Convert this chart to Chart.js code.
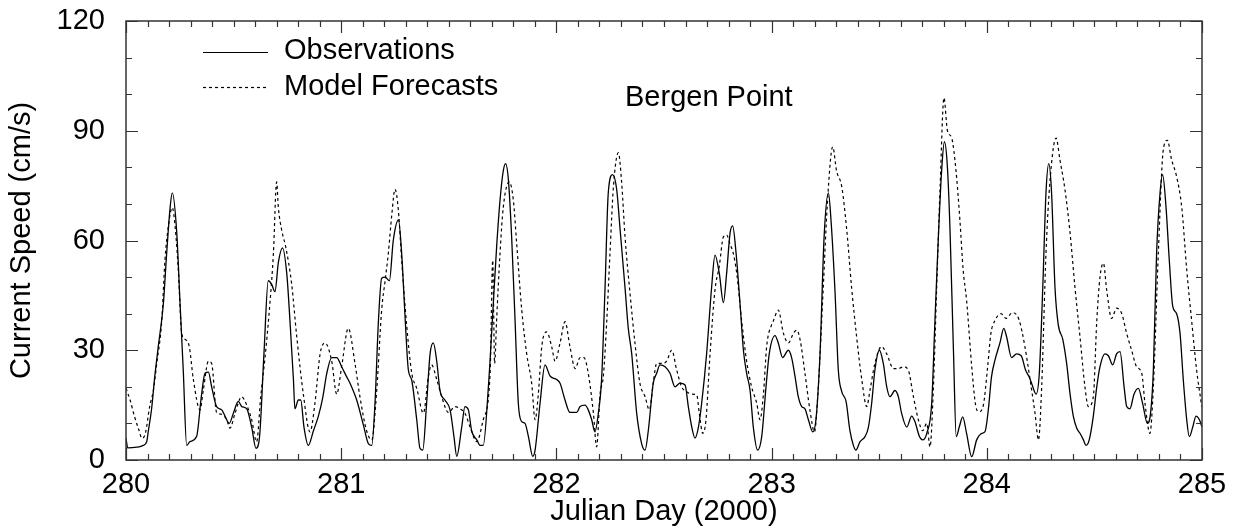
<!DOCTYPE html>
<html>
<head>
<meta charset="utf-8">
<script src="https://cdn.jsdelivr.net/npm/chart.js@4/dist/chart.umd.min.js"></script>
<style>
    body { margin: 0; background: #fff; }
    #chart-bergen { display: block; }
</style>
</head>
<body>
<canvas id="chart-bergen" width="1236" height="529"></canvas>
<script>
// julian day (2000) / current speed in cm/s
const obsDays = [
    280.000, 280.008, 280.050, 280.080, 280.096, 280.104, 280.119, 280.134, 280.150, 280.174,
    280.189, 280.205, 280.215, 280.236, 280.251, 280.266, 280.282, 280.297, 280.328, 280.350,
    280.367, 280.383, 280.398, 280.421, 280.445, 280.460, 280.480, 280.499, 280.522, 280.538,
    280.561, 280.584, 280.604, 280.620, 280.641, 280.661, 280.677, 280.692, 280.708, 280.727,
    280.747, 280.762, 280.778, 280.785, 280.801, 280.812, 280.827, 280.847, 280.871, 280.894,
    280.914, 280.933, 280.956, 280.979, 281.002, 281.025, 281.041, 281.072, 281.103, 281.126,
    281.142, 281.157, 281.173, 281.188, 281.204, 281.224, 281.242, 281.266, 281.281, 281.296,
    281.312, 281.327, 281.351, 281.366, 281.379, 281.397, 281.413, 281.428, 281.444, 281.459,
    281.482, 281.506, 281.524, 281.537, 281.560, 281.575, 281.591, 281.606, 281.630, 281.645,
    281.660, 281.684, 281.707, 281.722, 281.738, 281.753, 281.764, 281.777, 281.792, 281.808,
    281.823, 281.839, 281.854, 281.870, 281.890, 281.901, 281.924, 281.947, 281.970, 282.001,
    282.017, 282.040, 282.063, 282.094, 282.110, 282.133, 282.148, 282.164, 282.179, 282.195,
    282.210, 282.226, 282.241, 282.261, 282.280, 282.296, 282.319, 282.334, 282.350, 282.373,
    282.396, 282.412, 282.427, 282.450, 282.466, 282.481, 282.505, 282.528, 282.551, 282.574,
    282.598, 282.613, 282.629, 282.644, 282.660, 282.675, 282.698, 282.721, 282.737, 282.757,
    282.776, 282.791, 282.807, 282.819, 282.835, 282.853, 282.869, 282.884, 282.900, 282.915,
    282.935, 282.954, 282.974, 282.989, 283.016, 283.031, 283.051, 283.078, 283.093, 283.109,
    283.124, 283.140, 283.155, 283.171, 283.191, 283.206, 283.225, 283.244, 283.264, 283.276,
    283.295, 283.310, 283.326, 283.346, 283.364, 283.380, 283.392, 283.411, 283.434, 283.450,
    283.465, 283.480, 283.501, 283.519, 283.535, 283.550, 283.573, 283.589, 283.604, 283.628,
    283.651, 283.666, 283.687, 283.702, 283.721, 283.744, 283.759, 283.775, 283.790, 283.803,
    283.817, 283.829, 283.845, 283.858, 283.872, 283.888, 283.906, 283.930, 283.953, 283.977,
    283.992, 284.007, 284.022, 284.038, 284.061, 284.079, 284.092, 284.115, 284.138, 284.160,
    284.180, 284.196, 284.208, 284.229, 284.244, 284.260, 284.275, 284.288, 284.301, 284.317,
    284.332, 284.353, 284.371, 284.387, 284.402, 284.418, 284.433, 284.449, 284.461, 284.476,
    284.495, 284.511, 284.526, 284.549, 284.565, 284.585, 284.603, 284.619, 284.638, 284.650,
    284.665, 284.684, 284.704, 284.724, 284.746, 284.761, 284.774, 284.789, 284.805, 284.817,
    284.833, 284.848, 284.864, 284.882, 284.898, 284.913, 284.929, 284.941, 284.957, 284.972,
    284.988, 285.000
];
const obsSpeed = [
    6, 3.3, 3.5, 4, 5, 8, 14, 23, 31, 43,
    56.5, 69, 73, 62, 43, 24.6, 4, 5, 6.4, 17.3,
    23.7, 24, 20, 14.6, 13.7, 12, 10, 12.8, 16, 14.6,
    14, 9, 3.2, 6, 29, 49, 48, 46, 54, 58,
    51, 38, 22, 14, 16.4, 16.4, 9, 4, 8, 12,
    17, 23.7, 28, 28, 25.5, 22.8, 21, 16.4, 9.6, 4.5,
    4, 15.5, 38, 49.7, 50, 49, 60, 65.6, 56.5, 40,
    24.6, 22, 11, 3.2, 2.7, 15.5, 29, 32, 27, 19,
    16.4, 13.7, 6.4, 1, 9, 14.6, 13.7, 8, 5.5, 4,
    4, 20, 43, 58, 71, 79, 81, 76.5, 61, 38,
    15.5, 10.5, 10, 6.4, 1, 2.7, 15.5, 26, 23, 22,
    21, 16.4, 13, 13, 14.6, 15, 13.7, 11, 7.7, 12.8,
    22, 47, 73, 78, 74, 63, 47, 36, 29, 12.8,
    4.5, 2.7, 8, 21, 23.7, 26, 25.5, 23.7, 20, 21,
    20.5, 14.6, 9, 6, 9, 15.5, 29, 47, 56, 51,
    43, 51, 62, 64, 56.5, 43, 30, 23.7, 19, 9,
    2.7, 6.4, 20, 29, 34, 32, 28, 30, 28, 22.8,
    17.3, 14.6, 14, 11, 7.7, 11, 29, 61, 73, 65.6,
    45.6, 24.6, 18.7, 16, 8, 4, 2.7, 5, 6.4, 9,
    15.5, 24.6, 30, 26.4, 20, 17.3, 19, 17.3, 12.8, 9,
    12, 10.5, 6.4, 5.5, 7.3, 15.5, 38, 61, 79, 87,
    80, 63, 30, 6.4, 9, 11.8, 7.3, 0.9, 5.5, 7.3,
    7.8, 13.7, 22.8, 27.3, 32, 36, 33.7, 28, 29, 28.5,
    24.6, 22.8, 21, 18, 23.7, 47, 73, 81, 73, 47,
    37, 33, 26.4, 18, 12, 8.7, 7.3, 5.5, 4, 5.5,
    12, 20, 25.5, 29, 28.5, 26, 29, 29.6, 20, 14.6,
    14, 18, 19.6, 15.5, 10, 12.8, 24.6, 56.5, 73, 78,
    69, 54.6, 42, 40, 34.6, 22, 11, 6.4, 9, 12,
    11, 9
];

const fcstDays = [
    280.000, 280.019, 280.040, 280.060, 280.074, 280.090, 280.110, 280.127, 280.143, 280.166,
    280.181, 280.197, 280.215, 280.228, 280.243, 280.259, 280.274, 280.294, 280.313, 280.344,
    280.359, 280.383, 280.398, 280.421, 280.445, 280.468, 280.483, 280.507, 280.537, 280.561,
    280.584, 280.607, 280.626, 280.646, 280.669, 280.685, 280.700, 280.708, 280.723, 280.743,
    280.770, 280.793, 280.824, 280.855, 280.878, 280.902, 280.925, 280.956, 280.979, 281.002,
    281.033, 281.064, 281.087, 281.118, 281.142, 281.165, 281.188, 281.204, 281.219, 281.235,
    281.250, 281.266, 281.281, 281.304, 281.328, 281.351, 281.382, 281.405, 281.420, 281.444,
    281.467, 281.498, 281.529, 281.552, 281.575, 281.599, 281.630, 281.660, 281.692, 281.704,
    281.713, 281.722, 281.738, 281.753, 281.781, 281.800, 281.815, 281.839, 281.862, 281.885,
    281.901, 281.916, 281.932, 281.955, 281.978, 281.994, 282.017, 282.040, 282.063, 282.087,
    282.110, 282.128, 282.148, 282.172, 282.187, 282.203, 282.218, 282.234, 282.249, 282.265,
    282.288, 282.303, 282.319, 282.342, 282.365, 282.388, 282.412, 282.432, 282.450, 282.466,
    282.489, 282.512, 282.536, 282.559, 282.582, 282.605, 282.629, 282.652, 282.664, 282.680,
    282.695, 282.714, 282.737, 282.757, 282.776, 282.791, 282.807, 282.822, 282.838, 282.861,
    282.884, 282.907, 282.931, 282.946, 282.962, 282.977, 283.000, 283.008, 283.031, 283.055,
    283.078, 283.101, 283.117, 283.132, 283.155, 283.178, 283.199, 283.217, 283.240, 283.259,
    283.284, 283.302, 283.326, 283.349, 283.372, 283.395, 283.419, 283.442, 283.457, 283.480,
    283.511, 283.535, 283.566, 283.589, 283.612, 283.635, 283.659, 283.682, 283.702, 283.721,
    283.736, 283.752, 283.767, 283.783, 283.801, 283.817, 283.837, 283.857, 283.875, 283.890,
    283.906, 283.930, 283.948, 283.964, 283.984, 284.004, 284.019, 284.035, 284.066, 284.089,
    284.120, 284.150, 284.177, 284.201, 284.224, 284.240, 284.255, 284.275, 284.294, 284.322,
    284.340, 284.363, 284.387, 284.410, 284.433, 284.456, 284.472, 284.495, 284.511, 284.526,
    284.542, 284.557, 284.580, 284.603, 284.627, 284.650, 284.673, 284.696, 284.720, 284.735,
    284.758, 284.774, 284.797, 284.820, 284.839, 284.859, 284.882, 284.906, 284.929, 284.952,
    284.975, 284.999
];
const fcstSpeed = [
    19.6, 16.4, 11.8, 8.2, 5.9, 7.3, 14.6, 19, 26.4, 38,
    54.6, 64, 69, 64, 52, 34.6, 33, 31, 22, 13.7,
    19, 27, 26.4, 13, 12.5, 11, 8.7, 12.8, 17.3, 15,
    11, 5, 17.3, 28, 43, 56.5, 76, 69, 63, 58,
    48, 34, 18, 7.7, 15.5, 29, 32, 27, 18, 25.5,
    36, 26.4, 17.3, 8, 5.5, 19, 41, 49, 56.5, 67,
    74, 68, 54.6, 37, 23.7, 19.6, 12.8, 22.8, 26, 22,
    17.3, 13, 14.6, 14, 12.8, 9, 5, 11, 23.7, 54.6,
    26.4, 38, 56.5, 69, 76, 71, 59.5, 41, 29, 21,
    11, 18, 31, 35, 31, 27, 32, 37.8, 31, 25,
    28, 28, 23.7, 12.8, 3.6, 18, 22.8, 38, 56.5, 74.7,
    84, 76, 61, 45.6, 32, 21, 17.3, 13.7, 21, 26.4,
    26.4, 27, 30, 24.6, 20, 18.7, 18, 17.8, 12.8, 7.3,
    11, 29, 46.5, 53, 61, 61.5, 59, 56.5, 51, 38,
    27, 20, 15.5, 11, 18, 31, 37, 38, 41, 34.6,
    32, 34.6, 35.5, 33, 23.7, 13.7, 7.7, 20, 47, 70,
    85.6, 79, 74.7, 63, 47, 33.7, 22, 14.6, 19, 26.4,
    31, 29, 25, 25, 25.5, 24.6, 17.3, 11, 8, 10,
    3.6, 20, 47, 74.7, 99, 90, 88, 79, 65.6, 52,
    43.7, 25.5, 15, 13.2, 15, 25.5, 34.6, 37.8, 40, 38.7,
    40.3, 38.3, 31, 22, 12.8, 5.5, 20, 56.5, 76.5, 88,
    82, 74, 62, 47, 33.7, 20, 14.6, 17.3, 38, 50,
    53.8, 46.5, 38.7, 41.5, 40, 34.6, 30, 25.5, 23.7, 15.5,
    7.3, 20, 56.5, 84.7, 87.4, 82, 77.5, 69, 52, 38,
    24.6, 14.6
];

const dayTicks = [280, 281, 282, 283, 284, 285];
const speedTicks = [0, 30, 60, 90, 120];

const FONT = "'Liberation Sans', Arial, Helvetica, sans-serif";
const FONT_SIZE = 29;

const toPoints = (xs, ys) => xs.map((x, i) => ({ x: x, y: ys[i] }));

// frame with inward tick marks, like the original plot
const framePlugin = {
    id: "frame",
    afterDatasetsDraw(chart) {
        const ctx = chart.ctx;
        const area = chart.chartArea;
        const xs = chart.scales.x;
        const ys = chart.scales.y;
        ctx.save();
        ctx.strokeStyle = "#333";
        ctx.lineWidth = 1.5;
        ctx.strokeRect(area.left, area.top, area.right - area.left, area.bottom - area.top);
        ctx.lineWidth = 1.2;
        ctx.beginPath();
        for (let i = 0; i <= 50; i++) {
            const v = 280 + i / 10;
            const px = Math.round(xs.getPixelForValue(v)) + 0.5;
            const len = i % 10 === 0 ? 12 : 6;
            ctx.moveTo(px, area.bottom);
            ctx.lineTo(px, area.bottom - len);
            ctx.moveTo(px, area.top);
            ctx.lineTo(px, area.top + len);
        }
        for (let v = 0; v <= 120; v += 10) {
            const py = Math.round(ys.getPixelForValue(v)) + 0.5;
            const len = v % 30 === 0 ? 12 : 6;
            ctx.moveTo(area.left, py);
            ctx.lineTo(area.left + len, py);
            ctx.moveTo(area.right, py);
            ctx.lineTo(area.right - len, py);
        }
        ctx.stroke();
        ctx.restore();
    },
};

// legend in the upper left and the station name
const notesPlugin = {
    id: "notes",
    afterDraw(chart) {
        const ctx = chart.ctx;
        ctx.save();
        ctx.strokeStyle = "#000";
        ctx.lineWidth = 1.2;
        ctx.beginPath();
        ctx.moveTo(203, 52.5);
        ctx.lineTo(268, 52.5);
        ctx.stroke();
        ctx.setLineDash([3, 3]);
        ctx.beginPath();
        ctx.moveTo(203, 87.5);
        ctx.lineTo(268, 87.5);
        ctx.stroke();
        ctx.setLineDash([]);
        ctx.fillStyle = "#000";
        ctx.font = FONT_SIZE + "px " + FONT;
        ctx.textBaseline = "middle";
        ctx.textAlign = "left";
        ctx.fillText("Observations", 284, 51);
        ctx.fillText("Model Forecasts", 284, 87);
        ctx.fillText("Bergen Point", 625, 98);
        ctx.restore();
    },
};

const initChart = () => {
    const chartBergen = new Chart(document.getElementById("chart-bergen"), {
        type: "line",
        data: {
            datasets: [
                {
                    label: "Observations",
                    data: toPoints(obsDays, obsSpeed),
                    borderColor: "#000",
                    borderWidth: 1.3,
                    pointRadius: 0,
                    cubicInterpolationMode: "monotone",
                    fill: false,
                },
                {
                    label: "Model Forecasts",
                    data: toPoints(fcstDays, fcstSpeed),
                    borderColor: "#000",
                    borderWidth: 1.2,
                    borderDash: [3, 3],
                    pointRadius: 0,
                    cubicInterpolationMode: "monotone",
                    fill: false,
                },
            ],
        },
        options: {
            responsive: false,
            animation: false,
            devicePixelRatio: 1,
            layout: {
                padding: { left: 0, top: 21, right: 34, bottom: 0 },
            },
            plugins: {
                legend: { display: false },
                tooltip: { enabled: false },
            },
            scales: {
                x: {
                    type: "linear",
                    min: 280,
                    max: 285,
                    afterBuildTicks: (scale) => {
                        scale.ticks = dayTicks.map((v) => ({ value: v }));
                    },
                    afterFit: (scale) => {
                        scale.height = 69;
                        scale.paddingLeft = 0;
                        scale.paddingRight = 0;
                    },
                    grid: { display: false, drawTicks: false },
                    border: { display: false },
                    ticks: {
                        color: "#000",
                        padding: 8,
                        maxRotation: 0,
                        font: { family: FONT, size: FONT_SIZE },
                    },
                    title: {
                        display: true,
                        text: "Julian Day (2000)",
                        color: "#000",
                        padding: { top: 0, bottom: 0 },
                        font: { family: FONT, size: FONT_SIZE },
                    },
                },
                y: {
                    type: "linear",
                    min: 0,
                    max: 120,
                    afterBuildTicks: (scale) => {
                        scale.ticks = speedTicks.map((v) => ({ value: v }));
                    },
                    afterFit: (scale) => {
                        scale.width = 126;
                        scale.paddingTop = 0;
                        scale.paddingBottom = 0;
                    },
                    grid: { display: false, drawTicks: false },
                    border: { display: false },
                    ticks: {
                        color: "#000",
                        padding: 21,
                        font: { family: FONT, size: FONT_SIZE },
                    },
                    title: {
                        display: true,
                        text: "Current Speed (cm/s)",
                        color: "#000",
                        padding: { top: 5, bottom: 0 },
                        font: { family: FONT, size: FONT_SIZE },
                    },
                },
            },
        },
        plugins: [framePlugin, notesPlugin],
    });

    return { chart: chartBergen };
};

window.chartBergen = initChart();
</script>
</body>
</html>
